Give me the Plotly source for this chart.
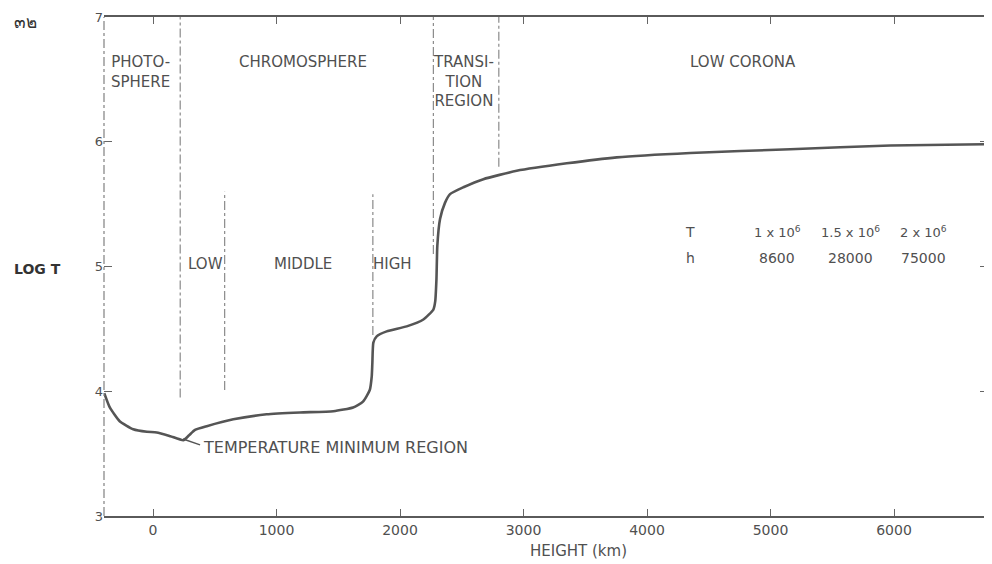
import plotly.graph_objects as go

# ---- data ----
height_km = [-395, -350, -270, -160, -50, 30, 140, 245, 290, 340, 435, 650, 920, 1190,
             1460, 1620, 1700, 1755, 1771, 1776, 1784, 1811, 1892, 2054, 2189, 2270,
             2285, 2295, 2302, 2324, 2364, 2405, 2513, 2675, 2945, 3350, 3755, 4350,
             5160, 5970, 6750]
log_t = [3.985, 3.87, 3.76, 3.695, 3.675, 3.67, 3.64, 3.608, 3.645, 3.69, 3.72, 3.775,
         3.815, 3.83, 3.84, 3.87, 3.917, 4.01, 4.12, 4.226, 4.39, 4.44, 4.48, 4.52,
         4.575, 4.655, 4.72, 4.90, 5.165, 5.38, 5.51, 5.58, 5.635, 5.70, 5.767, 5.827,
         5.875, 5.91, 5.94, 5.97, 5.98]

boundary_x = [220, 580, 1780, 2270, 2800]
boundary_bottom = [3.95, 4.01, 4.45, 5.10, 5.80]
boundary_top = [7.0, 5.60, 5.58, 7.0, 7.0]

x_ticks = [0, 1000, 2000, 3000, 4000, 5000, 6000]
y_ticks = [3, 4, 5, 6, 7]

region_labels = ["PHOTO-<br>SPHERE", "CHROMOSPHERE", "TRANSI-<br>TION<br>REGION", "LOW CORONA"]
region_x = [-105, 1215, 2510, 4777]
region_y = [6.56, 6.64, 6.48, 6.64]

sub_labels = ["LOW", "MIDDLE", "HIGH"]
sub_x = [421, 1215, 1943]
sub_y = [5.02, 5.02, 5.02]

pointer_x = [243, 381]
pointer_y = [3.617, 3.57]

table_T = ["1 x 10<sup>6</sup>", "1.5 x 10<sup>6</sup>", "2 x 10<sup>6</sup>"]
table_h = ["8600", "28000", "75000"]
table_col_x = [5053, 5644, 6235]

FONT = "DejaVu Sans"
INK = "#505050"

fig = go.Figure()

fig.add_trace(go.Scatter(x=height_km, y=log_t, mode="lines",
                         line=dict(color="#555555", width=2.6, shape="spline", smoothing=0.5),
                         hoverinfo="skip", showlegend=False))
fig.add_trace(go.Scatter(x=pointer_x, y=pointer_y, mode="lines",
                         line=dict(color="#555555", width=1.5),
                         hoverinfo="skip", showlegend=False))

for bx, b0, b1 in zip(boundary_x, boundary_bottom, boundary_top):
    fig.add_shape(type="line", x0=bx, x1=bx, y0=b0, y1=b1, xref="x", yref="y",
                  line=dict(color="#8a8a8a", width=1.2, dash="dashdot"))

# left and right frame edges (dashed in the scan)
for px in [0, 1]:
    fig.add_shape(type="line", x0=px, x1=px, y0=0, y1=1, xref="paper", yref="paper",
                  line=dict(color="#808080", width=1.2, dash="dashdot"))

for t, x, y in zip(region_labels, region_x, region_y):
    fig.add_annotation(x=x, y=y, text=t, showarrow=False, xref="x", yref="y",
                       font=dict(family=FONT, size=15, color=INK), align="center")
for t, x, y in zip(sub_labels, sub_x, sub_y):
    fig.add_annotation(x=x, y=y, text=t, showarrow=False, xref="x", yref="y",
                       font=dict(family=FONT, size=15, color=INK))

fig.add_annotation(x=pointer_x[-1] + 10, y=3.553, text="TEMPERATURE MINIMUM REGION",
                   showarrow=False, xanchor="left", xref="x", yref="y",
                   font=dict(family=FONT, size=16, color=INK))

fig.add_annotation(x=4348, y=5.276, text="T", showarrow=False, xref="x", yref="y",
                   font=dict(family=FONT, size=14, color=INK))
fig.add_annotation(x=4348, y=5.067, text="h", showarrow=False, xref="x", yref="y",
                   font=dict(family=FONT, size=14, color=INK))
for t, h, x in zip(table_T, table_h, table_col_x):
    fig.add_annotation(x=x, y=5.276, text=t, showarrow=False, xref="x", yref="y",
                       font=dict(family=FONT, size=13, color=INK))
    fig.add_annotation(x=x, y=5.067, text=h, showarrow=False, xref="x", yref="y",
                       font=dict(family=FONT, size=14, color=INK))

fig.add_annotation(x=-0.104, y=0.495, xref="paper", yref="paper", text="<b>LOG T</b>",
                   showarrow=False, xanchor="left", yanchor="middle",
                   font=dict(family=FONT, size=14, color="#333333"))
fig.add_annotation(x=-0.104, y=0.99, xref="paper", yref="paper", text="๓๒",
                   showarrow=False, xanchor="left", yanchor="middle",
                   font=dict(family=FONT, size=17, color="#333333"))
fig.add_annotation(x=0.537, y=-0.071, xref="paper", yref="paper", text="HEIGHT (km)",
                   showarrow=False, xanchor="center", yanchor="middle",
                   font=dict(family=FONT, size=15, color=INK))

fig.update_layout(
    width=984, height=556,
    margin=dict(l=96, r=4, t=9, b=48, autoexpand=False),
    paper_bgcolor="white", plot_bgcolor="white",
    xaxis=dict(range=[-397, 6761], tickvals=x_ticks, ticks="inside", ticklen=7,
               tickcolor="#666666", showline=True, mirror="ticks", linecolor="#5a5a5a",
               linewidth=1.5, showgrid=False, zeroline=False,
               tickfont=dict(family=FONT, size=14, color=INK)),
    yaxis=dict(range=[3, 7], tickvals=y_ticks, ticks="inside", ticklen=8,
               tickcolor="#666666", showline=False, mirror="ticks",
               showgrid=False, zeroline=False,
               tickfont=dict(family=FONT, size=13, color=INK)),
)

fig.write_html("out.html")
